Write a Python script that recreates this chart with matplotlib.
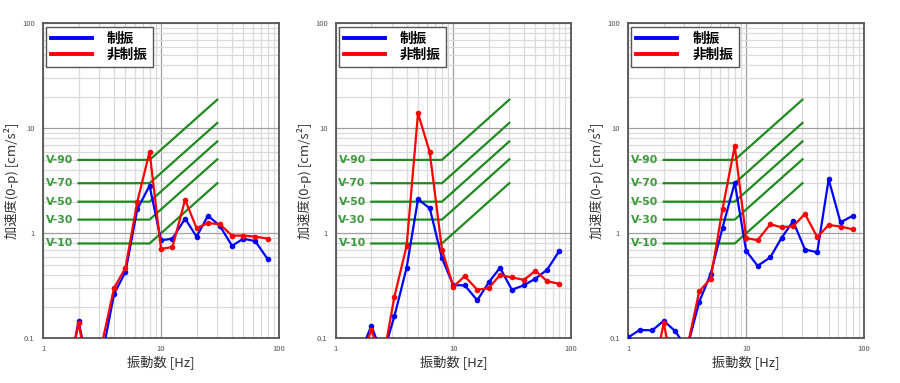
import matplotlib
matplotlib.use("Agg")
import matplotlib.pyplot as plt
from matplotlib.lines import Line2D
from matplotlib.ticker import FixedLocator, LogLocator, NullFormatter, FixedFormatter

plt.rcParams['font.family'] = ['Noto Sans CJK JP', 'DejaVu Sans']

freq = [1, 1.25, 1.6, 2, 2.5, 3.15, 4, 5, 6.3, 8, 10, 12.5, 16, 20, 25, 31.5, 40, 50, 63, 80]

p1_damped = [0.04, 0.04, 0.037, 0.147, 0.042, 0.066, 0.264, 0.43, 1.70, 2.84,
             0.857, 0.889, 1.38, 0.93, 1.47, 1.18, 0.76, 0.89, 0.84, 0.57]
p1_undamped = [0.04, 0.04, 0.04, 0.139, 0.04, 0.088, 0.30, 0.47, 2.0, 5.98,
               0.71, 0.74, 2.09, 1.12, 1.25, 1.22, 0.95, 0.95, 0.93, 0.89]

p2_damped = [0.04, 0.04, 0.07, 0.132, 0.068, 0.163, 0.47, 2.11, 1.73, 0.58,
             0.32, 0.32, 0.23, 0.34, 0.47, 0.29, 0.32, 0.37, 0.45, 0.68]
p2_undamped = [0.04, 0.04, 0.06, 0.12, 0.06, 0.25, 0.76, 13.9, 5.9, 0.70,
               0.31, 0.39, 0.29, 0.30, 0.40, 0.38, 0.36, 0.44, 0.35, 0.33]

p3_damped = [0.102, 0.12, 0.119, 0.147, 0.117, 0.08, 0.223, 0.41, 1.13, 3.03,
             0.68, 0.49, 0.59, 0.91, 1.30, 0.70, 0.66, 3.27, 1.27, 1.47]
p3_undamped = [0.04, 0.04, 0.04, 0.14, 0.04, 0.08, 0.28, 0.37, 1.70, 6.78,
               0.90, 0.86, 1.22, 1.14, 1.17, 1.53, 0.92, 1.20, 1.16, 1.09]

panels = [(p1_damped, p1_undamped), (p2_damped, p2_undamped), (p3_damped, p3_undamped)]

# Habitability guideline curves
v_labels = ['V-90', 'V-70', 'V-50', 'V-30', 'V-10']
v_levels = [5.0, 3.0, 2.0, 1.35, 0.8]
v_freq = [2, 8, 30]

series_labels = ['制振', '非制振']
xlabel = '振動数 [Hz]'
ylabel = '加速度(0-p) [cm/s²]'
x_ticks = [1, 10, 100]
x_ticklabels = ['1', '10', '100']
y_ticks = [0.1, 1, 10, 100]
y_ticklabels = ['0.1', '1', '10', '100']

fig = plt.figure(figsize=(9, 3.83), dpi=100)
lefts = [0.0478, 0.3733, 0.698]
widths = [0.2622, 0.2608, 0.2622]
green = '#1f8a1f'
green_txt = '#3c9a3c'

for i, (damped, undamped) in enumerate(panels):
    ax = fig.add_axes([lefts[i], 0.1167, widths[i], 0.8225])
    ax.set_xscale('log')
    ax.set_yscale('log')
    ax.set_xlim(1, 100)
    ax.set_ylim(0.1, 100)

    ax.xaxis.set_major_locator(FixedLocator(x_ticks))
    ax.xaxis.set_major_formatter(FixedFormatter(x_ticklabels))
    ax.yaxis.set_major_locator(FixedLocator(y_ticks))
    ax.yaxis.set_major_formatter(FixedFormatter(y_ticklabels))
    ax.xaxis.set_minor_locator(LogLocator(base=10, subs=range(2, 10)))
    ax.yaxis.set_minor_locator(LogLocator(base=10, subs=range(2, 10)))
    ax.xaxis.set_minor_formatter(NullFormatter())
    ax.yaxis.set_minor_formatter(NullFormatter())
    ax.tick_params(which='both', length=0)
    ax.tick_params(axis='both', which='major', labelsize=5.5, labelcolor='#555555')
    ax.tick_params(axis='y', pad=6)
    ax.tick_params(axis='x', pad=5)

    ax.grid(True, which='major', color='#a0a0a0', lw=0.9)
    ax.grid(True, which='minor', color='#dadada', lw=0.9)
    ax.set_axisbelow(True)
    for s in ax.spines.values():
        s.set_color('#555555')
        s.set_linewidth(1.3)

    for lab, lev in zip(v_labels, v_levels):
        vals = [lev, lev, lev * v_freq[2] / v_freq[1]]
        ax.plot(v_freq, vals, color=green, lw=1.6, zorder=3)
        ax.annotate(lab, xy=(v_freq[0], lev), xytext=(-4, 0), textcoords='offset points',
                    ha='right', va='center', fontsize=7.8, fontweight='bold',
                    color=green_txt, family=['DejaVu Sans'])

    ax.plot(freq, damped, color='#0000ff', lw=1.6, marker='o', ms=3, zorder=4)
    ax.plot(freq, undamped, color='#ff0000', lw=1.6, marker='o', ms=3, zorder=5)

    handles = [Line2D([], [], color='#0000ff', lw=2.8),
               Line2D([], [], color='#ff0000', lw=2.8)]
    leg = ax.legend(handles, series_labels, loc='upper left', bbox_to_anchor=(0.012, 0.989),
                    borderaxespad=0, fancybox=False, framealpha=1, edgecolor='#555555',
                    prop={'size': 9.8, 'weight': 'bold'}, handlelength=3.0,
                    handletextpad=1.1, borderpad=0.4, labelspacing=0.1)
    leg.get_frame().set_linewidth(1.0)
    leg.set_zorder(10)

    ax.set_xlabel(xlabel, fontsize=9.5, color='#333333', labelpad=2)
    ax.set_ylabel(ylabel, fontsize=9.5, color='#333333', labelpad=2)

fig.savefig('out.png', dpi=100)
